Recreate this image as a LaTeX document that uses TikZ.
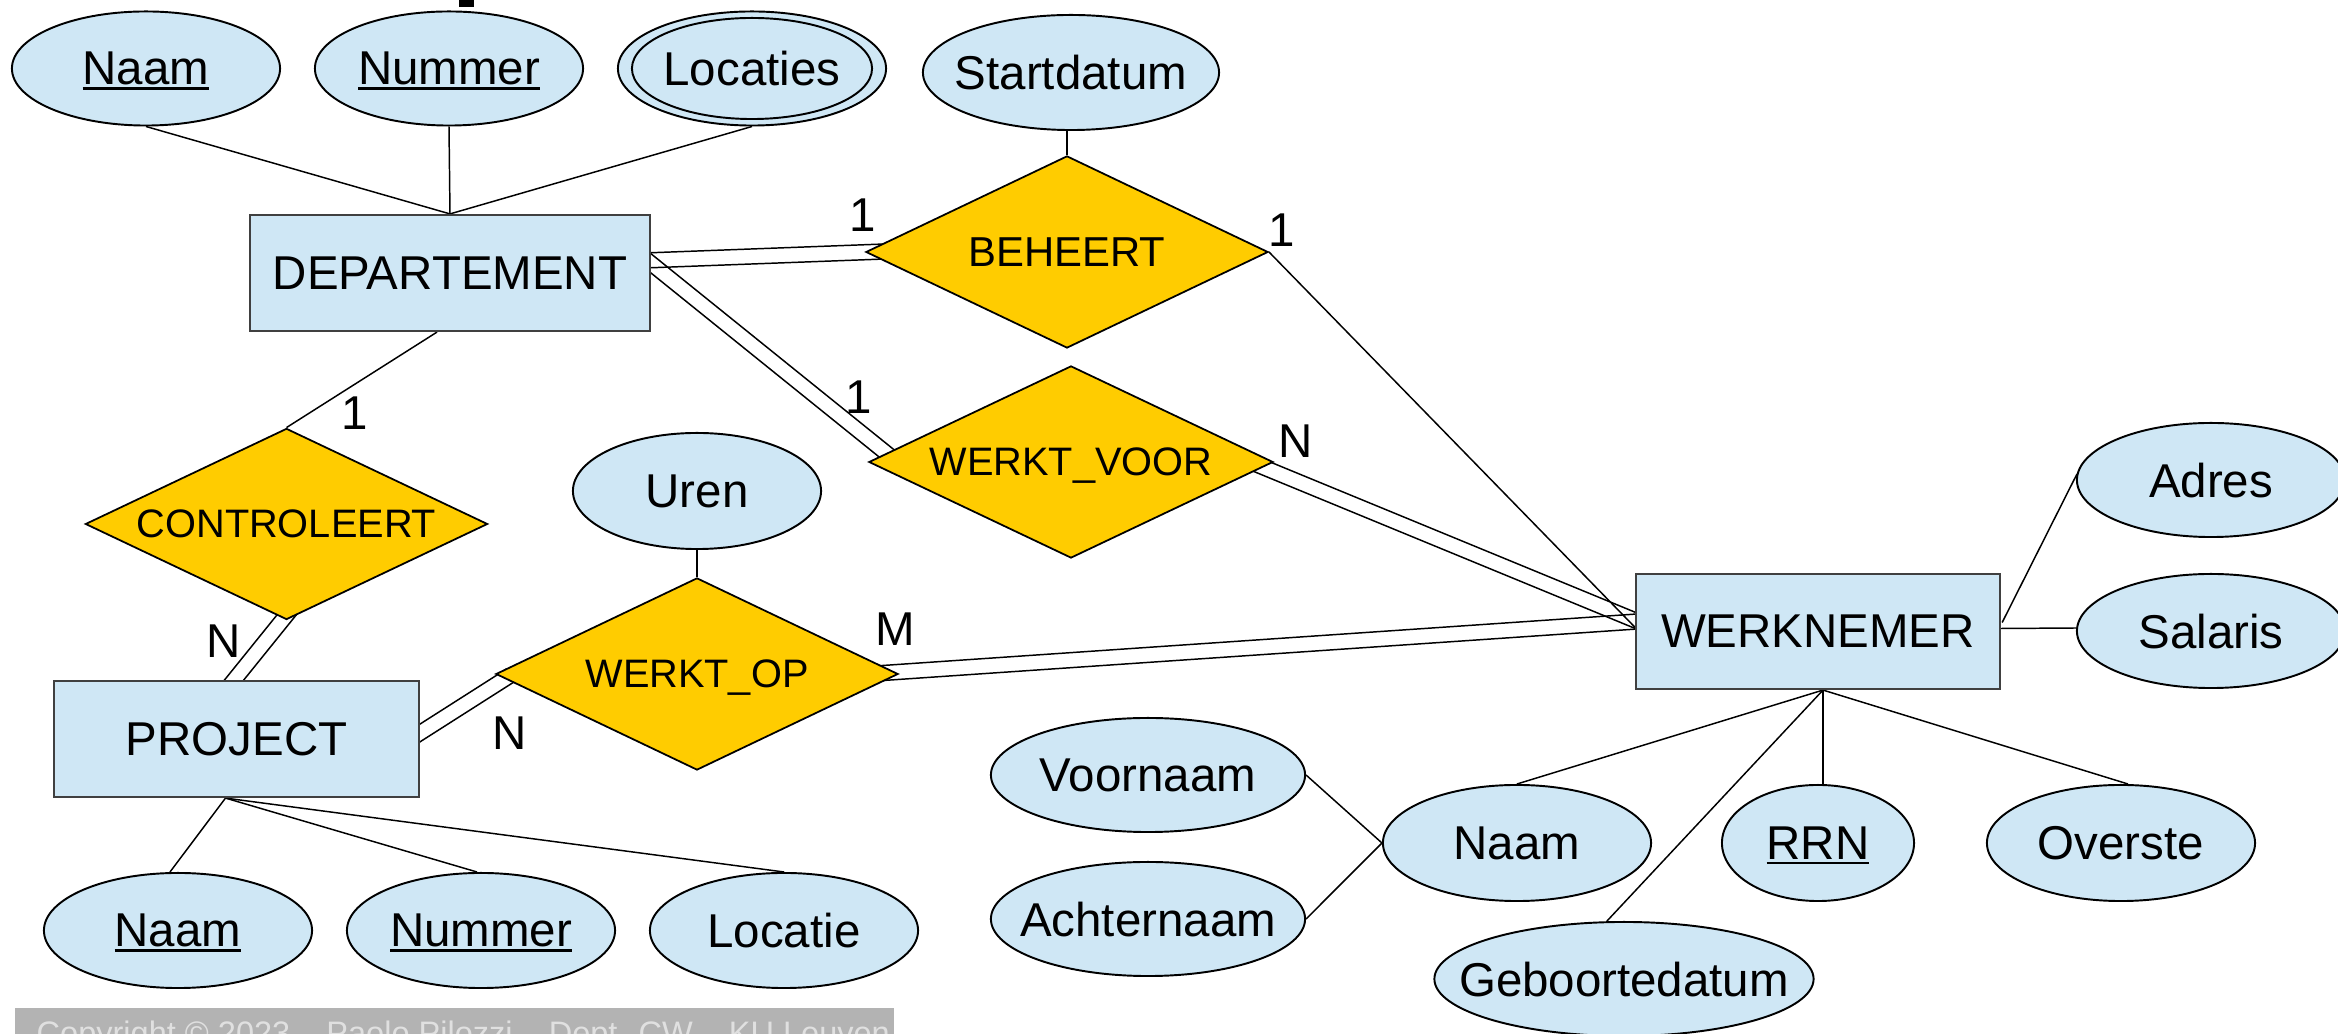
\documentclass[tikz,border=0pt]{standalone}
\usepackage{fontspec}
\setmainfont{Liberation Sans}
\usetikzlibrary{shapes.geometric,calc}
\definecolor{attrblue}{RGB}{207,231,245}
\definecolor{relgold}{RGB}{255,204,0}
\definecolor{copygray}{RGB}{179,179,179}
\definecolor{copytext}{RGB}{224,224,224}
\newcommand{\myfontA}{\fontsize{13.5pt}{16pt}\selectfont}
\newcommand{\myfontR}{\fontsize{11.3pt}{14pt}\selectfont}
\newcommand{\myfontC}{\fontsize{9.25pt}{11pt}\selectfont}
\newcommand{\myul}[1]{\leavevmode\setbox0\hbox{#1}\rlap{\rule[-1.45pt]{\wd0}{0.75pt}}\box0}
\newcommand{\dblline}[2]{%
  \draw[conn] ($(#1)!0.075cm!90:(#2)$) -- ($(#2)!0.075cm!-90:(#1)$);
  \draw[conn] ($(#1)!0.075cm!-90:(#2)$) -- ($(#2)!0.075cm!90:(#1)$);}
\pgfdeclarelayer{bg}
\pgfsetlayers{bg,main}
\begin{document}
\begin{tikzpicture}[x=0.01cm,y=-0.01cm,
  conn/.style={draw=black, line width=0.42pt},
  attr/.style={ellipse, draw=black, line width=0.55pt, fill=attrblue, inner sep=0pt,
    minimum width=2.68cm, minimum height=1.14cm,
    label={[font=\myfontA, text depth=0pt]center:#1}},
  rel/.style={diamond, draw=black, line width=0.5pt, fill=relgold, inner sep=0pt,
    minimum width=4.02cm, minimum height=1.92cm,
    label={[font=\myfontR, text depth=0pt]center:#1}},
  ent/.style={rectangle, draw=black!75, line width=0.6pt, fill=attrblue, inner sep=0pt,
    minimum height=1.16cm, font=\myfontA},
  card/.style={font=\myfontA, inner sep=0pt, text depth=0pt}]
\useasboundingbox (0,0) rectangle (2338,1034);

% stray mark at the top
\fill[black] (459,0) rectangle (474,7);

% entities
\node[ent, minimum width=4.00cm] (dept) at (450,273) {DEPARTEMENT};
\node[ent, minimum width=3.65cm] (project) at (236.5,739) {PROJECT};
\node[ent, minimum width=3.64cm, minimum height=1.15cm] (wn) at (1818,631.5) {WERKNEMER};

% relationships
\node[rel={\fontsize{11.9pt}{14pt}\selectfont BEHEERT}] (beheert) at (1067,252) {};
\node[rel=WERKT\_VOOR, minimum width=4.04cm] (wv) at (1071,462) {};
\node[rel=CONTROLEERT, minimum height=1.91cm] (ct) at (286.5,524) {};
\node[rel=WERKT\_OP] (wo) at (697,674) {};

% attributes
\node[attr={\myul{Naam}}] (dnaam) at (146,68.5) {};
\node[attr={\myul{Nummer}}] (dnum) at (449,68.5) {};
\node[attr=Locaties] (dloc) at (752,68.5) {};
\node[ellipse, draw=black, line width=0.55pt, inner sep=0pt, minimum width=2.40cm, minimum height=1.01cm] (dlocin) at (dloc.center) {};
\node[attr=Startdatum, minimum width=2.96cm, minimum height=1.15cm] (start) at (1071,72.5) {};
\node[attr=Uren, minimum width=2.48cm, minimum height=1.16cm] (uren) at (697,491) {};
\node[attr={\myul{Naam}}, minimum height=1.15cm] (pnaam) at (178,930.5) {};
\node[attr={\myul{Nummer}}, minimum height=1.15cm] (pnum) at (481,930.5) {};
\node[attr=Locatie, minimum height=1.15cm] (ploc) at (784,930.5) {};
\node[attr=Voornaam, minimum width=3.14cm] (voor) at (1148,775) {};
\node[attr=Achternaam, minimum width=3.14cm] (achter) at (1148,919) {};
\node[attr=Naam, minimum height=1.16cm] (wnaam) at (1517,843) {};
\node[attr={\myul{RRN}}, minimum width=1.92cm, minimum height=1.16cm] (rrn) at (1818,843) {};
\node[attr=Overste, minimum height=1.16cm] (overste) at (2121,843) {};
\node[attr=Geboortedatum, minimum width=3.79cm] (geb) at (1624,979) {};
\node[attr=Adres] (adres) at (2211,480) {};
\node[attr=Salaris] (salaris) at (2211,631) {};

% cardinalities
\node[card] (c1) at (863,215) {1};
\node[card] (c2) at (1282,230) {1};
\node[card] (c3) at (859,397) {1};
\node[card] (c4) at (1296,441) {N};
\node[card] (c5) at (355,413) {1};
\node[card] (c6) at (224,641) {N};
\node[card] (c7) at (895,629) {M};
\node[card] (c8) at (510,733) {N};

% copyright bar (cut off at the lower edge, as in the reference)
\fill[copygray] (15,1008) rectangle (894,1060);
\node[font=\myfontC, text=copytext, anchor=base west, inner sep=0pt] (copy) at (36,1045)
  {Copyright © 2023 – Paolo Pilozzi – Dept. CW – KU Leuven};

\begin{pgfonlayer}{bg}
  % anchor points for double lines
  \coordinate (dbA) at ($(dept.east)+(-20,-12)$);
  \coordinate (dbB) at ($(beheert.west)+(33,-1)$);
  \coordinate (dwA) at ($(dept.east)+(-20,-25.6)$);
  \coordinate (dwB) at ($(wv.west)+(36,5.4)$);
  \coordinate (cpA) at ($(ct.south)+(16.1,-25.3)$);
  \coordinate (cpB) at ($(project.north)+(-12.3,12.4)$);
  \coordinate (opA) at ($(wo.west)+(16,1)$);
  \coordinate (opB) at ($(project.east)+(-14,2.8)$);
  \coordinate (onA) at ($(wo.east)+(-38,0.5)$);
  \coordinate (onB) at ($(wn.west)+(14,-10.8)$);
  \coordinate (vnA) at ($(wv.east)+(-43,-8)$);
  \coordinate (vnB) at ($(wn.west)+(14,-5.5)$);
  \dblline{dbA}{dbB}
  \dblline{dwA}{dwB}
  \dblline{cpA}{cpB}
  \dblline{opA}{opB}
  \dblline{onA}{onB}
  \dblline{vnA}{vnB}
  % single lines
  \draw[conn] (dnaam.south) -- (dept.north);
  \draw[conn] (dnum.south) -- (dept.north);
  \draw[conn] (dloc.south) -- (dept.north);
  \draw[conn] (beheert.north) -- (beheert.north |- start.south);
  \coordinate (bhwn) at ($(wn.west)+(14,10)$);
  \draw[conn] (beheert.east) -- (bhwn);
  \coordinate (dctop) at ($(dept.south)+(-13,0)$);
  \draw[conn] (dctop) -- (ct.north);
  \draw[conn] (uren.south) -- (wo.north);
  \draw[conn] ($(wn.east)+(1,-9)$) -- ($(adres.west)+(1,-6)$);
  \draw[conn] ($(wn.east)+(0,-3)$) -- ($(salaris.west)+(0,-3)$);
  \coordinate (wnb) at ($(wn.south)+(5,0)$);
  \draw[conn] (wnb) -- (wnaam.north);
  \draw[conn] (wnb) -- (wnb |- rrn.north);
  \draw[conn] (wnb) -- ($(overste.north)+(7,0)$);
  \draw[conn] (wnb) -- ($(geb.north)+(-17,0)$);
  \draw[conn] (wnaam.west) -- (voor.east);
  \draw[conn] (wnaam.west) -- (achter.east);
  \coordinate (pb) at ($(project.south)+(-11,0)$);
  \draw[conn] (pb) -- ($(pnaam.north)+(-8,0)$);
  \draw[conn] (pb) -- ($(pnum.north)+(-4,0)$);
  \draw[conn] (pb) -- (ploc.north);
\end{pgfonlayer}
\end{tikzpicture}
\end{document}
